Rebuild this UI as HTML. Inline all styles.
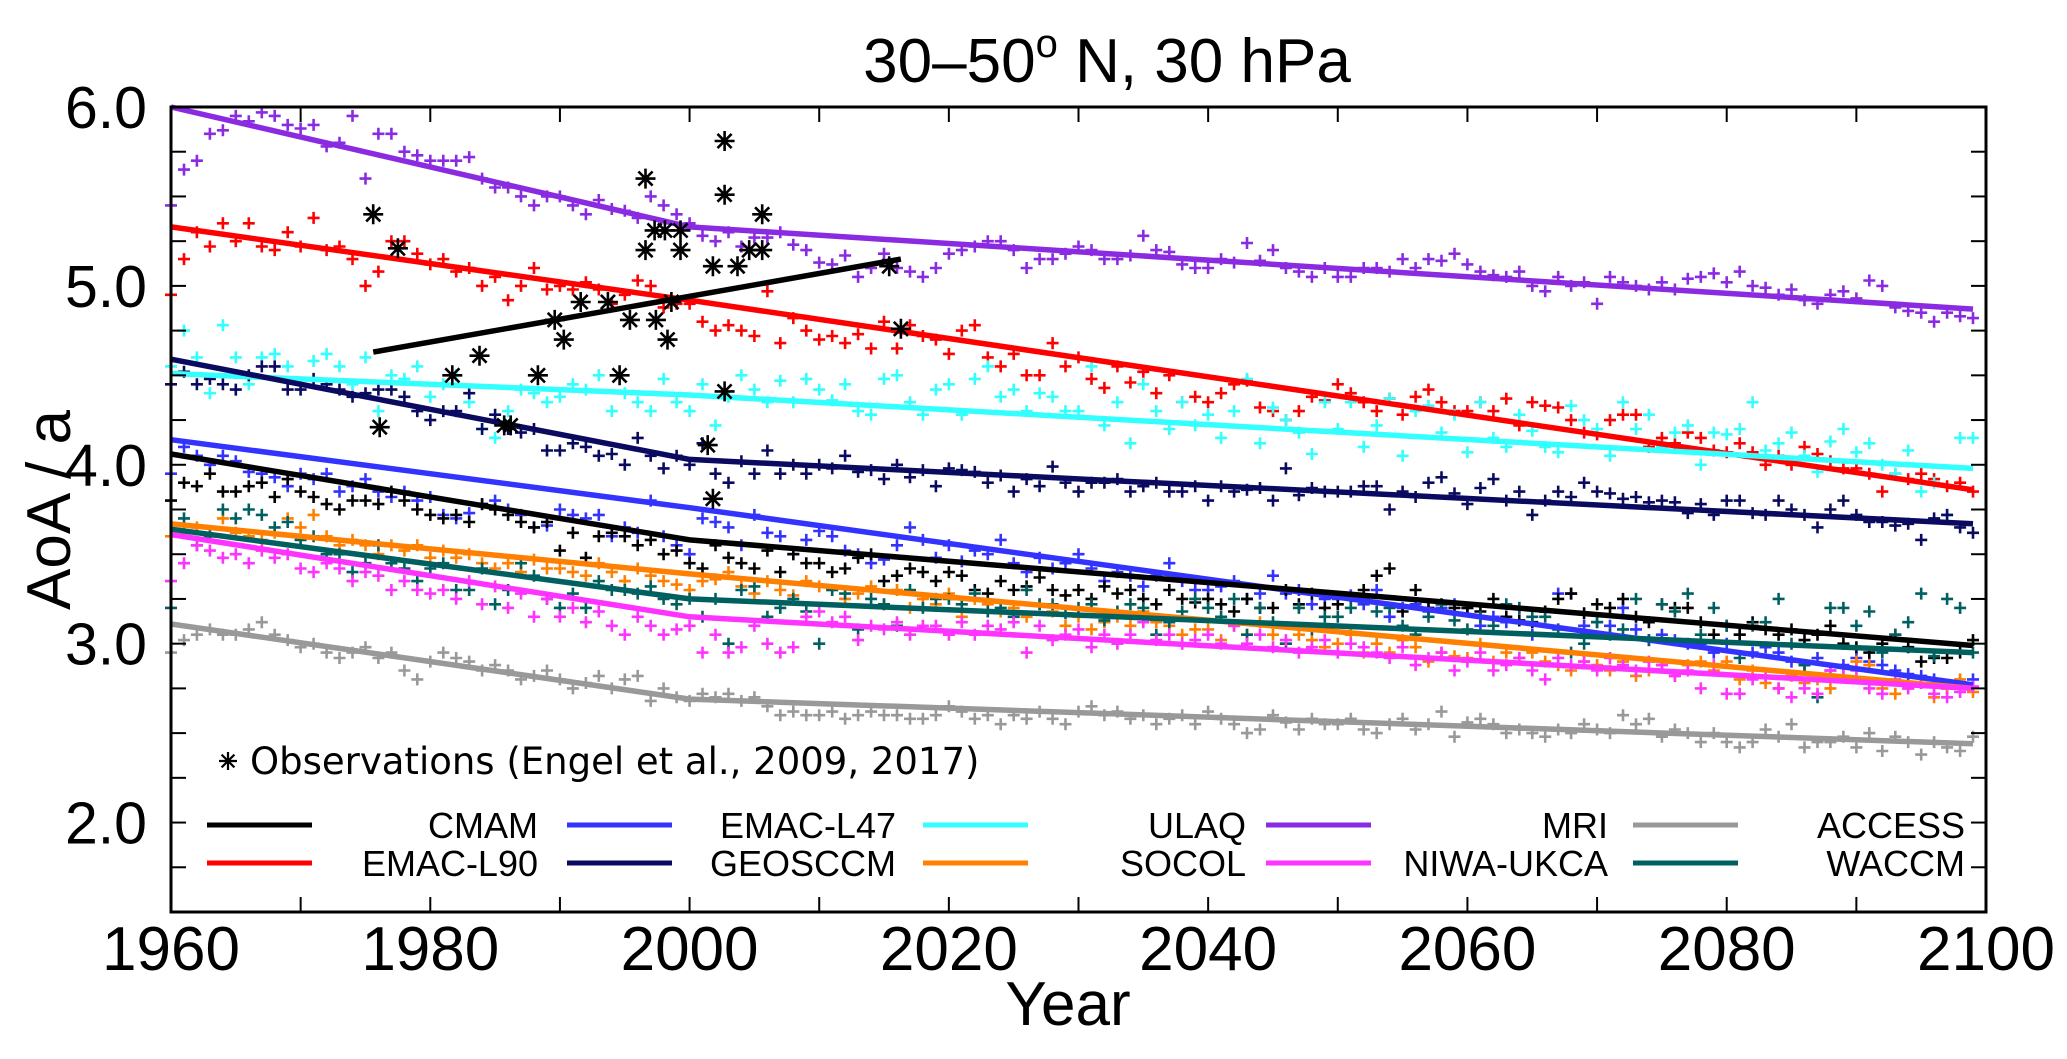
<!DOCTYPE html>
<html><head><meta charset="utf-8"><style>
html,body{margin:0;padding:0;background:#fff;}
svg{display:block;font-family:"Liberation Sans",sans-serif;}
</style></head><body>
<svg id="chart" width="2067" height="1059" viewBox="0 0 2067 1059" xmlns="http://www.w3.org/2000/svg">
<rect width="2067" height="1059" fill="#fff"/>
<text x="1107" y="82" font-size="62" text-anchor="middle">30–50<tspan font-size="40" dy="-25">o</tspan><tspan dy="25"> N, 30 hPa</tspan></text>
<text transform="translate(70,510) rotate(-90)" font-size="62" text-anchor="middle">AoA / a</text>
<text x="1068" y="1025" font-size="62" text-anchor="middle">Year</text>
<g id="marks"></g>
<g id="axes"></g>
<g id="legend"></g>
</svg>
<script>
const years0 = 1960;
const yTickLabels = ["2.0","3.0","4.0","5.0","6.0"];
const xTickLabels = ["1960","1980","2000","2020","2040","2060","2080","2100"];
const models = ["CMAM","EMAC-L90","EMAC-L47","GEOSCCM","ULAQ","SOCOL","MRI","NIWA-UKCA","ACCESS","WACCM"];
const trendCMAM=[4.06,3.58,2.99], trendL90=[5.33,4.92,3.86], trendL47=[4.14,3.76,2.77], trendGEOS=[4.59,4.03,3.67], trendULAQ=[4.51,4.39,3.98], trendSOCOL=[3.67,3.39,2.75], trendMRI=[6.0,5.33,4.87], trendNIWA=[3.61,3.15,2.75], trendACCESS=[3.11,2.69,2.44], trendWACCM=[3.64,3.25,2.95];
const trendYears=[1960,2000,2099];
const valsMRI=[5.45,5.65,5.7,5.85,5.87,5.95,5.92,5.97,5.95,5.9,5.88,5.9,5.78,5.8,5.95,5.6,5.85,5.85,5.75,5.73,5.7,5.7,5.7,5.72,5.6,5.55,5.55,5.5,5.45,5.5,5.5,5.45,5.4,5.48,5.43,5.42,5.38,5.5,5.45,5.4,5.35,5.28,5.25,5.3,5.22,5.27,5.27,5.3,5.23,5.2,5.13,5.12,5.17,5.05,5.1,5.18,5.1,5.08,5.05,5.1,5.18,5.2,5.22,5.25,5.25,5.2,5.1,5.15,5.15,5.18,5.22,5.2,5.15,5.15,5.17,5.28,5.2,5.19,5.12,5.1,5.1,5.15,5.13,5.24,5.14,5.2,5.1,5.08,5.05,5.1,5.05,5.05,5.1,5.1,5.08,5.15,5.1,5.15,5.14,5.18,5.12,5.08,5.06,5.05,5.08,5.0,4.97,5.05,5.0,5.02,4.9,5.05,5.02,5.0,4.98,5.02,4.98,5.04,5.05,5.07,5.02,5.08,5.0,4.99,4.95,4.98,4.92,4.9,4.95,4.97,4.93,5.03,5.0,4.88,4.86,4.85,4.8,4.85,4.83,4.82];
const valsL90=[4.95,5.15,5.3,5.22,5.35,5.25,5.35,5.22,5.2,5.3,5.22,5.38,5.2,5.22,5.15,5.0,5.08,5.25,5.25,5.18,5.12,5.15,5.08,5.1,5.0,5.05,4.92,5.0,5.1,4.98,5.0,4.98,5.02,4.98,4.9,4.95,5.03,5.0,4.88,4.9,4.9,4.8,4.75,4.78,4.75,4.72,4.97,4.68,4.82,4.75,4.7,4.72,4.68,4.73,4.65,4.8,4.65,4.78,4.72,4.7,4.62,4.75,4.78,4.6,4.55,4.62,4.5,4.5,4.68,4.55,4.6,4.48,4.43,4.55,4.46,4.52,4.4,4.5,4.35,4.38,4.35,4.4,4.45,4.47,4.32,4.3,4.25,4.3,4.38,4.36,4.45,4.4,4.35,4.3,4.37,4.28,4.38,4.42,4.35,4.3,4.3,4.35,4.3,4.37,4.22,4.35,4.33,4.32,4.25,4.18,4.17,4.25,4.28,4.28,4.1,4.15,4.12,4.18,4.15,4.08,4.07,4.12,4.07,4.0,4.05,4.0,4.1,4.06,4.02,3.98,3.98,3.95,3.85,3.95,3.92,3.95,3.92,3.88,3.9,3.85];
const valsULAQ=[4.55,4.75,4.6,4.4,4.78,4.6,4.45,4.6,4.62,4.55,4.45,4.58,4.62,4.55,4.45,4.6,4.3,4.5,4.48,4.55,4.38,4.45,4.5,4.35,4.2,4.15,4.3,4.42,4.4,4.35,4.38,4.45,4.42,4.5,4.3,4.4,4.35,4.3,4.48,4.35,4.3,4.45,4.22,4.38,4.5,4.42,4.35,4.47,4.35,4.48,4.42,4.36,4.45,4.3,4.28,4.48,4.5,4.35,4.28,4.42,4.45,4.28,4.48,4.55,4.38,4.42,4.3,4.4,4.38,4.3,4.3,4.55,4.22,4.35,4.12,4.45,4.3,4.2,4.35,4.22,4.28,4.15,4.3,4.48,4.12,4.32,4.25,4.18,4.06,4.35,4.2,4.35,4.1,4.22,4.37,4.05,4.3,4.33,4.18,4.28,4.07,4.35,4.15,4.1,4.28,4.19,4.1,4.07,4.33,4.25,4.2,4.05,4.35,4.2,4.28,4.1,4.18,4.22,4.0,4.18,4.17,4.2,4.35,4.08,4.12,4.18,4.05,3.96,4.13,4.2,4.07,4.12,4.0,3.95,4.08,3.85,3.9,3.72,4.15,4.15];
const valsGEOS=[4.45,4.52,4.45,4.48,4.45,4.42,4.5,4.55,4.55,4.42,4.42,4.48,4.45,4.42,4.38,4.4,4.42,4.42,4.38,4.3,4.25,4.3,4.3,4.4,4.2,4.28,4.2,4.18,4.2,4.08,4.08,4.12,4.1,4.05,4.06,4.0,4.15,4.05,3.98,4.05,4.0,4.12,3.95,3.9,4.02,3.95,4.08,3.95,4.0,3.95,4.0,3.98,4.05,3.96,3.97,3.92,4.0,3.93,3.97,3.88,3.98,3.97,3.96,3.9,3.94,3.85,3.92,3.88,3.99,3.9,3.85,3.9,3.9,3.92,3.85,3.88,3.9,3.85,3.85,3.88,3.8,3.88,3.85,3.86,3.87,3.8,3.98,3.83,3.87,3.85,3.85,3.85,3.88,3.88,3.75,3.85,3.82,3.9,3.93,3.84,3.78,3.87,3.92,3.8,3.85,3.72,3.8,3.85,3.82,3.9,3.85,3.84,3.81,3.82,3.79,3.8,3.79,3.73,3.78,3.72,3.8,3.8,3.73,3.72,3.8,3.75,3.72,3.65,3.75,3.8,3.72,3.68,3.68,3.66,3.67,3.58,3.7,3.72,3.65,3.62];
const valsL47=[3.95,4.1,4.05,4.0,4.05,4.02,3.96,3.95,3.93,3.88,3.95,3.92,3.95,3.85,3.88,3.92,3.85,3.82,3.85,3.8,3.82,3.72,3.7,3.73,3.78,3.8,3.75,3.72,3.65,3.66,3.75,3.72,3.7,3.72,3.6,3.65,3.62,3.8,3.6,3.55,3.5,3.7,3.68,3.65,3.55,3.72,3.62,3.6,3.5,3.58,3.63,3.6,3.52,3.5,3.45,3.47,3.55,3.65,3.58,3.48,3.55,3.46,3.52,3.5,3.58,3.45,3.4,3.48,3.42,3.45,3.5,3.42,3.35,3.4,3.38,3.32,3.38,3.45,3.35,3.3,3.3,3.32,3.35,3.25,3.28,3.38,3.28,3.3,3.22,3.25,3.25,3.27,3.22,3.3,3.15,3.2,3.22,3.18,3.2,3.22,3.2,3.1,3.15,3.12,3.2,3.05,3.18,3.28,3.28,3.1,3.12,3.1,3.2,3.08,3.02,3.05,3.02,3.0,3.0,2.95,3.0,3.05,2.95,2.98,2.95,2.9,2.88,2.92,2.85,2.88,2.92,2.9,2.88,2.85,2.83,2.82,2.8,2.75,2.78,2.8];
const valsCMAM=[3.8,3.9,3.88,3.95,3.85,3.85,3.88,3.9,3.82,3.92,3.85,3.82,3.78,3.75,3.8,3.8,3.78,3.85,3.8,3.75,3.72,3.7,3.72,3.68,3.78,3.75,3.72,3.68,3.65,3.68,3.52,3.62,3.48,3.6,3.62,3.6,3.55,3.58,3.5,3.52,3.45,3.42,3.55,3.48,3.45,3.42,3.52,3.4,3.5,3.45,3.45,3.4,3.42,3.48,3.5,3.35,3.38,3.42,3.4,3.35,3.4,3.38,3.3,3.28,3.35,3.3,3.32,3.37,3.3,3.27,3.3,3.25,3.32,3.28,3.3,3.25,3.22,3.3,3.25,3.23,3.25,3.22,3.18,3.25,3.2,3.2,3.3,3.22,3.28,3.2,3.22,3.25,3.3,3.38,3.42,3.18,3.3,3.2,3.22,3.2,3.2,3.18,3.25,3.15,3.13,3.12,3.18,3.25,3.28,3.17,3.22,3.2,3.25,3.15,3.12,3.22,3.2,3.2,3.12,3.05,3.1,3.05,3.12,3.08,3.05,3.08,3.02,3.05,3.1,3.0,2.98,2.95,3.0,3.05,2.98,2.9,2.92,2.92,2.95,3.02];
const valsSOCOL=[3.6,3.62,3.65,3.6,3.7,3.62,3.6,3.58,3.62,3.7,3.65,3.72,3.6,3.55,3.58,3.55,3.5,3.55,3.52,3.55,3.48,3.52,3.48,3.5,3.45,3.42,3.45,3.4,3.47,3.42,3.42,3.4,3.38,3.45,3.4,3.35,3.42,3.38,3.35,3.33,3.3,3.35,3.36,3.4,3.32,3.28,3.35,3.3,3.27,3.35,3.32,3.3,3.25,3.28,3.32,3.22,3.3,3.2,3.25,3.22,3.28,3.15,3.25,3.22,3.18,3.2,3.15,3.22,3.18,3.1,3.15,3.08,3.12,3.15,3.1,3.18,3.12,3.1,3.05,3.08,3.08,3.02,3.1,3.05,3.12,3.05,3.0,3.05,3.02,2.98,3.0,3.05,2.95,3.0,2.95,3.02,2.98,2.9,2.95,2.93,2.92,3.0,2.9,2.95,2.92,2.95,2.9,2.88,2.85,2.9,2.88,2.85,2.9,2.82,2.85,2.88,2.82,2.88,2.9,2.85,2.9,2.8,2.85,2.78,2.75,2.82,2.78,2.8,2.75,2.82,2.9,2.88,2.75,2.72,2.75,2.78,2.7,2.75,2.8,2.73];
const valsWACCM=[3.2,3.7,3.55,3.6,3.75,3.7,3.75,3.72,3.65,3.68,3.58,3.6,3.5,3.5,3.4,3.45,3.55,3.45,3.42,3.35,3.42,3.45,3.3,3.3,3.42,3.22,3.3,3.45,3.38,3.25,3.2,3.28,3.2,3.35,3.3,3.3,3.28,3.32,3.25,3.22,3.25,3.15,3.25,3.0,3.3,3.32,3.15,3.2,3.25,3.18,3.0,3.3,3.28,3.08,3.25,3.22,3.1,3.3,3.2,3.25,3.25,3.22,3.28,3.18,3.2,3.15,3.3,3.22,3.22,3.17,3.2,3.22,3.13,3.18,3.22,3.2,3.05,3.12,3.18,3.25,3.2,3.15,3.25,3.05,3.2,3.12,3.0,3.2,3.08,3.15,3.15,3.2,3.25,3.18,3.2,3.1,3.05,3.15,3.22,3.13,3.08,3.15,3.1,3.22,3.2,3.15,3.15,3.08,2.95,3.0,3.12,3.05,3.08,3.25,3.02,3.22,3.18,3.28,3.05,3.2,3.1,2.92,3.1,3.12,3.25,3.0,2.88,2.7,3.2,3.2,3.1,3.18,2.95,3.05,3.12,3.28,2.93,3.25,3.2,2.95];
const valsNIWA=[3.35,3.45,3.55,3.52,3.48,3.5,3.45,3.52,3.48,3.5,3.42,3.4,3.45,3.42,3.35,3.4,3.38,3.3,3.35,3.3,3.28,3.3,3.25,3.35,3.22,3.32,3.2,3.28,3.15,3.25,3.15,3.2,3.12,3.18,3.1,3.05,3.15,3.1,3.05,3.08,3.1,2.95,3.05,2.95,2.98,3.1,3.0,2.95,2.98,3.15,3.18,3.12,3.15,3.02,3.1,3.08,3.12,3.05,3.1,3.1,3.05,3.12,3.05,3.1,3.08,3.12,2.95,3.1,3.02,3.05,3.08,2.98,3.05,3.0,3.05,3.12,3.02,3.05,3.0,3.02,3.05,3.0,3.1,3.0,3.05,2.98,3.02,2.95,2.98,3.02,2.95,3.0,2.98,2.95,2.92,2.98,2.88,2.92,2.95,2.85,2.9,2.95,2.85,2.88,2.92,2.85,2.8,2.92,2.88,2.9,2.85,2.92,2.88,2.85,2.9,2.88,2.82,2.85,2.75,2.88,2.72,2.72,2.8,2.82,2.75,2.7,2.75,2.72,2.85,2.82,2.85,2.75,2.72,2.8,2.75,2.78,2.72,2.7,2.73,2.76];
const valsACCESS=[2.95,3.02,3.05,3.08,3.05,3.05,3.08,3.12,3.05,3.02,2.98,3.0,2.95,2.92,2.95,2.98,2.92,2.95,2.85,2.8,2.9,2.95,2.92,2.9,2.85,2.88,2.85,2.8,2.82,2.85,2.8,2.75,2.78,2.82,2.75,2.8,2.82,2.68,2.75,2.7,2.68,2.72,2.7,2.72,2.68,2.7,2.65,2.6,2.62,2.6,2.6,2.62,2.58,2.6,2.62,2.6,2.6,2.58,2.58,2.6,2.65,2.62,2.58,2.6,2.55,2.6,2.58,2.62,2.58,2.55,2.62,2.65,2.6,2.62,2.58,2.6,2.55,2.58,2.6,2.55,2.62,2.58,2.55,2.5,2.52,2.6,2.56,2.52,2.58,2.55,2.55,2.58,2.52,2.5,2.55,2.58,2.52,2.55,2.62,2.48,2.56,2.58,2.55,2.5,2.52,2.5,2.48,2.52,2.5,2.55,2.52,2.5,2.6,2.55,2.58,2.48,2.52,2.5,2.45,2.5,2.45,2.42,2.45,2.52,2.48,2.55,2.42,2.45,2.45,2.48,2.42,2.5,2.4,2.48,2.45,2.38,2.45,2.42,2.4,2.48];
const obsYears=[1975.6,1977.5,1976.1,1981.7,1983.8,1985.7,1986.2,1988.3,1989.6,1990.3,1991.6,1993.7,1994.6,1995.4,1996.6,1996.6,1997.3,1997.4,1998.1,1998.3,1998.6,1999.3,1999.3,2001.4,2001.8,2001.8,2002.7,2002.7,2002.7,2003.7,2004.6,2005.6,2005.6,2015.4,2016.3];
const obsValues=[5.40,5.21,4.21,4.50,4.61,4.22,4.22,4.50,4.81,4.70,4.91,4.91,4.50,4.81,5.60,5.20,5.31,4.81,5.31,4.70,4.91,5.31,5.20,4.11,5.11,3.81,5.81,5.51,4.41,5.11,5.20,5.20,5.40,5.11,4.76];
const obsTrendYears=[1975.6,2016.3];
const obsTrendValues=[4.63,5.15];

const L=171,R=1986,T=107,B=912, X0=1960,X1=2100,Y0=1.5,Y1=6.0;
const sx=v=>L+(v-X0)/(X1-X0)*(R-L);
const sy=v=>B-(v-Y0)/(Y1-Y0)*(B-T);
const NS="http://www.w3.org/2000/svg";
function mk(tag,attrs,parent){const e=document.createElementNS(NS,tag);for(const k in attrs)e.setAttribute(k,attrs[k]);parent.appendChild(e);return e;}
const marks=document.getElementById('marks'),axes=document.getElementById('axes'),legend=document.getElementById('legend');

const series=[
 {n:"mri",c:"#8a2be2",v:valsMRI,t:trendMRI},
 {n:"emac-l90",c:"#ff0000",v:valsL90,t:trendL90},
 {n:"ulaq",c:"#33ffff",v:valsULAQ,t:trendULAQ},
 {n:"geosccm",c:"#0a0a60",v:valsGEOS,t:trendGEOS},
 {n:"emac-l47",c:"#3333ff",v:valsL47,t:trendL47},
 {n:"cmam",c:"#000000",v:valsCMAM,t:trendCMAM},
 {n:"socol",c:"#ff7f00",v:valsSOCOL,t:trendSOCOL},
 {n:"waccm",c:"#006060",v:valsWACCM,t:trendWACCM},
 {n:"niwa-ukca",c:"#ff33ff",v:valsNIWA,t:trendNIWA},
 {n:"access",c:"#999999",v:valsACCESS,t:trendACCESS}
];
series.forEach(s=>{
 const g=mk('g',{stroke:s.c,'stroke-width':2.6},marks);
 
 
 let d='';
 s.v.forEach((v,i)=>{const x=sx(years0+i),y=sy(v);if(y<T||y>B)return;d+=`M${(x-6).toFixed(1)} ${y.toFixed(1)}h12M${x.toFixed(1)} ${(y-6).toFixed(1)}v12`;});
 mk('path',{d:d,fill:'none'},g);
});
series.forEach(s=>{
 const p=mk('polyline',{points:trendYears.map((yr,i)=>sx(yr).toFixed(1)+','+sy(s.t[i]).toFixed(1)).join(' '),fill:'none',stroke:s.c,'stroke-width':5.5,'stroke-linejoin':'round'},marks);
 
 
});
const og=mk('g',{stroke:'#000','stroke-width':2.6},marks);


function star(x,y,r,parent){let d='';for(let k=0;k<4;k++){const a=k*Math.PI/4+Math.PI/2;const dx=r*Math.cos(a),dy=r*Math.sin(a);d+=`M${(x-dx).toFixed(1)} ${(y-dy).toFixed(1)}L${(x+dx).toFixed(1)} ${(y+dy).toFixed(1)}`;}return mk('path',{d:d},parent);}
obsYears.forEach((yr,i)=>star(sx(yr),sy(obsValues[i]),10,og));
const ol=mk('line',{x1:sx(obsTrendYears[0]),y1:sy(obsTrendValues[0]),x2:sx(obsTrendYears[1]),y2:sy(obsTrendValues[1]),stroke:'#000','stroke-width':5.5},marks);



const frame=mk('rect',{x:L,y:T,width:R-L,height:B-T,fill:'none',stroke:'#000','stroke-width':3},axes);


for(let yr=1960;yr<=2100;yr+=10){const x=sx(yr);mk('line',{x1:x,y1:B,x2:x,y2:B-15,stroke:'#000','stroke-width':2},axes);mk('line',{x1:x,y1:T,x2:x,y2:T+15,stroke:'#000','stroke-width':2},axes);}
for(let v=1.5;v<=6.001;v+=0.25){const y=sy(v);mk('line',{x1:L,y1:y,x2:L+15,y2:y,stroke:'#000','stroke-width':2},axes);mk('line',{x1:R,y1:y,x2:R-15,y2:y,stroke:'#000','stroke-width':2},axes);}
xTickLabels.forEach(l=>{const t=mk('text',{x:sx(+l),y:970,'font-size':62,'text-anchor':'middle'},axes);t.textContent=l;
 
 });
yTickLabels.forEach(l=>{const t=mk('text',{x:147,y:sy(+l)+21,'font-size':59,'text-anchor':'end'},axes);t.textContent=l;
 
 });

const legRows=[[["CMAM","#000000"],["EMAC-L47","#3333ff"],["ULAQ","#33ffff"],["MRI","#8a2be2"],["ACCESS","#999999"]],
 [["EMAC-L90","#ff0000"],["GEOSCCM","#0a0a60"],["SOCOL","#ff7f00"],["NIWA-UKCA","#ff33ff"],["WACCM","#006060"]]];
const lineStarts=[207,567,923,1266,1633], labelEnds=[538,896,1246,1608,1965], rowY=[825,863];
legRows.forEach((row,r)=>row.forEach((e,c)=>{
 const g=mk('g',{},legend);
 
 
 mk('line',{x1:lineStarts[c],y1:rowY[r],x2:lineStarts[c]+105,y2:rowY[r],stroke:e[1],'stroke-width':5},g);
 const t=mk('text',{x:labelEnds[c],y:rowY[r]+13,'font-size':36,'text-anchor':'end'},g);t.textContent=e[0];
}));
const og2=mk('g',{stroke:'#000','stroke-width':2.2},legend);


star(228,761,9,og2);
const ot=mk('text',{x:250,y:774,'font-size':37,'font-family':'"DejaVu Sans",sans-serif',stroke:'none'},og2);ot.textContent="Observations (Engel et al., 2009, 2017)";
</script>
</body></html>
